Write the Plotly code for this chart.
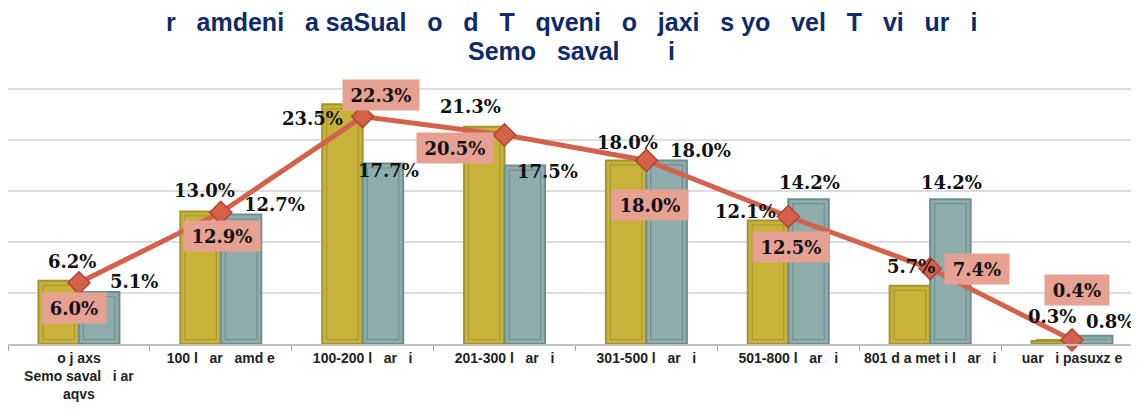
import plotly.graph_objects as go

# ---- data ----
categories = [
    "o j axs<br>Semo saval  i ar<br>aqvs",
    "100 l  ar  amd e",
    "100-200 l  ar  i",
    "201-300 l  ar  i",
    "301-500 l  ar  i",
    "501-800 l  ar  i",
    "801 d a met i l  ar  i",
    "uar  i pasuxz e",
]
series_yellow = [6.2, 13.0, 23.5, 21.3, 18.0, 12.1, 5.7, 0.3]
series_teal = [5.1, 12.7, 17.7, 17.5, 18.0, 14.2, 14.2, 0.8]
series_line = [6.0, 12.9, 22.3, 20.5, 18.0, 12.5, 7.4, 0.4]
title_lines = [
    "r   amdeni   a saSual   o   d   T   qveni   o   jaxi   s yo   vel   T   vi   ur   i",
    "Semo   saval       i",
]

# ---- label placement (pixel offsets from the value point: dx right, dy up) ----
yellow_off = [(-7, 19), (-16, 21), (-50, -14), (-34, 20), (-19, 18), (-43, 9), (-19, 19), (-20, 24)]
teal_off = [(55, 10), (54, 10), (26, -7), (43, -6), (54, 10), (21, 17), (21, 17), (38, 14)]
line_off = [(-5, -25), (1, -24), (18, 22), (-50, -13), (4, -45), (3, -30), (47, 0), (5, 50)]

NB = "\u00a0"
def nb(s, n=3):
    return s.replace("  ", NB * n)

cats = [nb(c) for c in categories]

YELLOW, YELLOW_LINE, YELLOW_INNER = "#C9B23A", "#A3952E", "#A8982F"
TEAL, TEAL_LINE, TEAL_INNER = "#8FACAC", "#6E8E8E", "#6F8E8E"
RED, RED_DARK = "#D4614A", "#B04531"
BOX = "#E6A193"
LABEL_FONT = dict(family="DejaVu Serif, Georgia, serif", size=18, color="#111111", weight="bold")
TITLE_FONT = dict(family="Liberation Sans, Arial, sans-serif", size=25, color="#0D2B6B", weight="bold")

# page body has an 8px margin, so the figure is sized to fit inside the window
W, H = 1131, 402
ML, MR, MT, MB = 0, 5, 78, 66
PH = H - MT - MB
X_RANGE = [-0.5, 7.437]
Y_RANGE = [0, 25.3]
px_x = (W - ML - MR) / (X_RANGE[1] - X_RANGE[0])   # pixels per category
px_y = PH / (Y_RANGE[1] - Y_RANGE[0])              # pixels per percent

BW = 40.5 / px_x          # bar width in category units
INS_X = 4.5 / px_x        # inner bevel inset
INS_Y = 4.5 / px_y

fig = go.Figure()
for vals, off, fill, edge, inner in [
    (series_yellow, -BW, YELLOW, YELLOW_LINE, YELLOW_INNER),
    (series_teal, 0.0, TEAL, TEAL_LINE, TEAL_INNER),
]:
    fig.add_bar(x=cats, y=vals, width=BW, offset=off,
                marker=dict(color=fill, line=dict(color=edge, width=2)), showlegend=False)
    fig.add_bar(x=cats, y=[max(0, v - 2 * INS_Y) for v in vals], base=INS_Y,
                width=BW - 2 * INS_X, offset=off + INS_X,
                marker=dict(color="rgba(0,0,0,0)", line=dict(color=inner, width=1.2)),
                showlegend=False, hoverinfo="skip")
fig.add_scatter(x=cats, y=series_line, mode="lines+markers",
                line=dict(color=RED, width=5),
                marker=dict(symbol="diamond", size=17, color=RED, line=dict(color=RED_DARK, width=1.5)),
                showlegend=False, cliponaxis=False)

annotations = []
for i, c in enumerate(cats):
    dx, dy = yellow_off[i]
    annotations.append(dict(x=c, y=series_yellow[i], xref="x", yref="y", text=f"{series_yellow[i]:.1f}%",
                            showarrow=False, xshift=dx, yshift=dy, font=LABEL_FONT))
    dx, dy = teal_off[i]
    annotations.append(dict(x=c, y=series_teal[i], xref="x", yref="y", text=f"{series_teal[i]:.1f}%",
                            showarrow=False, xshift=dx, yshift=dy, font=LABEL_FONT))
    dx, dy = line_off[i]
    txt = f"{series_line[i]:.1f}%"
    annotations.append(dict(x=c, y=series_line[i], xref="x", yref="y", text=txt,
                            showarrow=False, xshift=dx, yshift=dy, font=LABEL_FONT,
                            bgcolor=BOX, width=(74 if len(txt) > 4 else 62), height=28))

# title lines as centred annotations (pixel centre from figure top converted to paper units)
for text, yc in zip(title_lines, [14, 43]):
    annotations.append(dict(x=0.5, xref="paper", y=(H - MB - yc) / PH, yref="paper", yanchor="middle",
                            xanchor="center", text=text.replace(" ", NB), showarrow=False, font=TITLE_FONT))

fig.update_layout(
    template="none",
    width=W, height=H,
    margin=dict(l=ML, r=MR, t=MT, b=MB, pad=0),
    paper_bgcolor="white", plot_bgcolor="white",
    barmode="overlay",
    xaxis=dict(type="category", range=X_RANGE, showgrid=False, automargin=False,
               showline=True, linecolor="#BFBFBF", linewidth=1.5,
               ticks="outside", tickson="boundaries", ticklen=5, tickcolor="#A6A6A6",
               tickfont=dict(family="Liberation Sans, Arial, sans-serif", size=14, color="#222222", weight="bold")),
    yaxis=dict(range=Y_RANGE, dtick=5, showticklabels=False, showgrid=True, automargin=False,
               gridcolor="#DDDDDD", gridwidth=2, zeroline=False, showline=False, ticks=""),
    annotations=annotations,
)

fig.write_html("out.html")
